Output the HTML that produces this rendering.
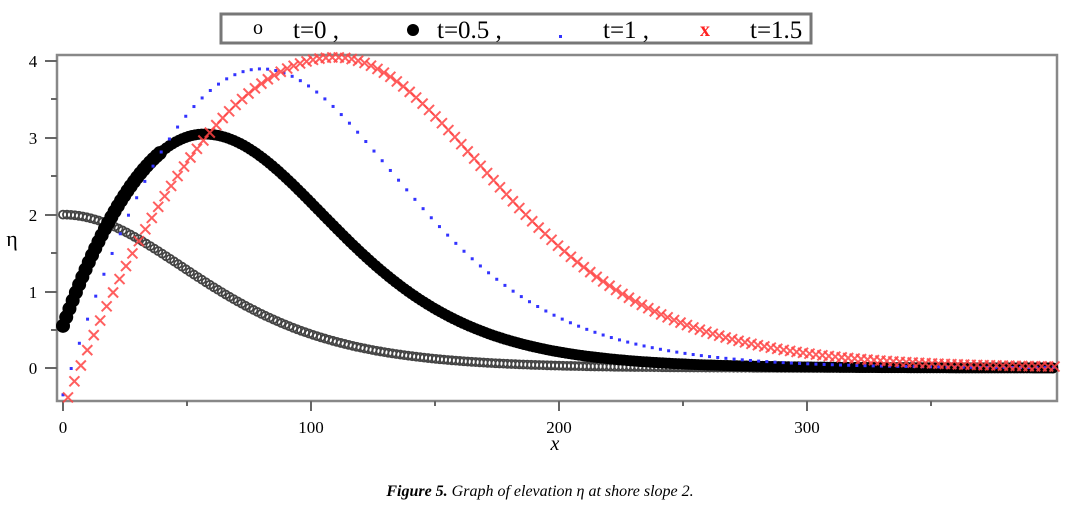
<!DOCTYPE html>
<html><head><meta charset="utf-8"><style>
html,body{margin:0;padding:0;background:#fff;width:1076px;height:508px;overflow:hidden}
svg{display:block}
text{font-family:"Liberation Serif",serif}
</style></head><body>
<svg id="s" width="1076" height="508" xmlns="http://www.w3.org/2000/svg">
<rect x="221" y="14" width="590" height="29" fill="#fff" stroke="#777" stroke-width="3"/>
<text x="253" y="34" font-size="20">o</text>
<text x="293" y="38" font-size="25">t=0 ,</text>
<circle cx="413" cy="30" r="6" fill="#000"/>
<text x="437" y="38" font-size="25">t=0.5 ,</text>
<rect x="559" y="35" width="3" height="3" fill="#33f"/>
<text x="603" y="38" font-size="25">t=1 ,</text>
<text x="700" y="36" font-size="20" fill="#f22" font-weight="bold">x</text>
<text x="750" y="38" font-size="25">t=1.5</text>
<rect x="57" y="55" width="1000" height="346" fill="none" stroke="#888" stroke-width="2.5"/>
<g stroke="#666" stroke-width="2">
<line x1="45" y1="61" x2="57" y2="61"/><line x1="45" y1="138" x2="57" y2="138"/><line x1="45" y1="215" x2="57" y2="215"/><line x1="45" y1="292" x2="57" y2="292"/><line x1="45" y1="368" x2="57" y2="368"/>
<line x1="51" y1="99" x2="57" y2="99"/><line x1="51" y1="176" x2="57" y2="176"/><line x1="51" y1="253" x2="57" y2="253"/><line x1="51" y1="330" x2="57" y2="330"/>
<line x1="63" y1="401" x2="63" y2="411"/><line x1="311" y1="401" x2="311" y2="411"/><line x1="559" y1="401" x2="559" y2="411"/><line x1="807" y1="401" x2="807" y2="411"/>
<line x1="187" y1="401" x2="187" y2="406"/><line x1="435" y1="401" x2="435" y2="406"/><line x1="683" y1="401" x2="683" y2="406"/><line x1="931" y1="401" x2="931" y2="406"/>
</g>
<g font-size="17" text-anchor="middle">
<text x="33" y="67">4</text><text x="33" y="144">3</text><text x="33" y="221">2</text><text x="33" y="298">1</text><text x="33" y="374">0</text>
<text x="63" y="433">0</text><text x="311" y="433">100</text><text x="559" y="433">200</text><text x="807" y="433">300</text>
</g>
<text x="555" y="450" font-size="20" font-style="italic" text-anchor="middle">x</text>
<text x="12" y="246" font-size="22" text-anchor="middle">η</text>
<text x="540" y="496" font-size="16" font-style="italic" text-anchor="middle"><tspan font-weight="bold">Figure 5.</tspan> Graph of elevation η at shore slope 2.</text>
<g id="g"></g>
</svg>
<script>
var g=document.getElementById('g'),h='';
function X(x){return 63+x*2.48}function Y(v){return 368-v*76.7}
function sech2(a){var c=Math.cosh(a);return 1/(c*c);}
function sk(x,c,p,a,wr){if(x<c){var u=(c-x)/c;return p-(p-a)*u*u;}return p*sech2((x-c)/wr);}
function f0(x){return 2*sech2(x/72);}
for(var x=0;x<=400;x+=1.6){h+='<circle cx="'+X(x)+'" cy="'+Y(f0(x))+'" r="4" fill="none" stroke="#444" stroke-width="1.8"/>';}
for(var x=0;x<=400;x+=1.3){h+='<circle cx="'+X(x)+'" cy="'+Y(sk(x,57,3.05,0.55,71))+'" r="'+(x<40?7:5.5)+'" fill="#000"/>';}
for(var x=0;x<=400;x+=3.3){h+='<rect x="'+(X(x)-1.5)+'" y="'+(Y(sk(x,80,3.9,-0.35,78))-1.5)+'" width="3" height="3" fill="#33f"/>';}
for(var x=2;x<=400;x+=2.6){var cx=X(x),cy=Y(sk(x,110,4.05,-0.55,86));h+='<path d="M'+(cx-5)+' '+(cy-5)+'L'+(cx+5)+' '+(cy+5)+'M'+(cx+5)+' '+(cy-5)+'L'+(cx-5)+' '+(cy+5)+'" stroke="#f44" stroke-width="2" opacity="0.85"/>';}
g.innerHTML=h;
</script>
</body></html>
